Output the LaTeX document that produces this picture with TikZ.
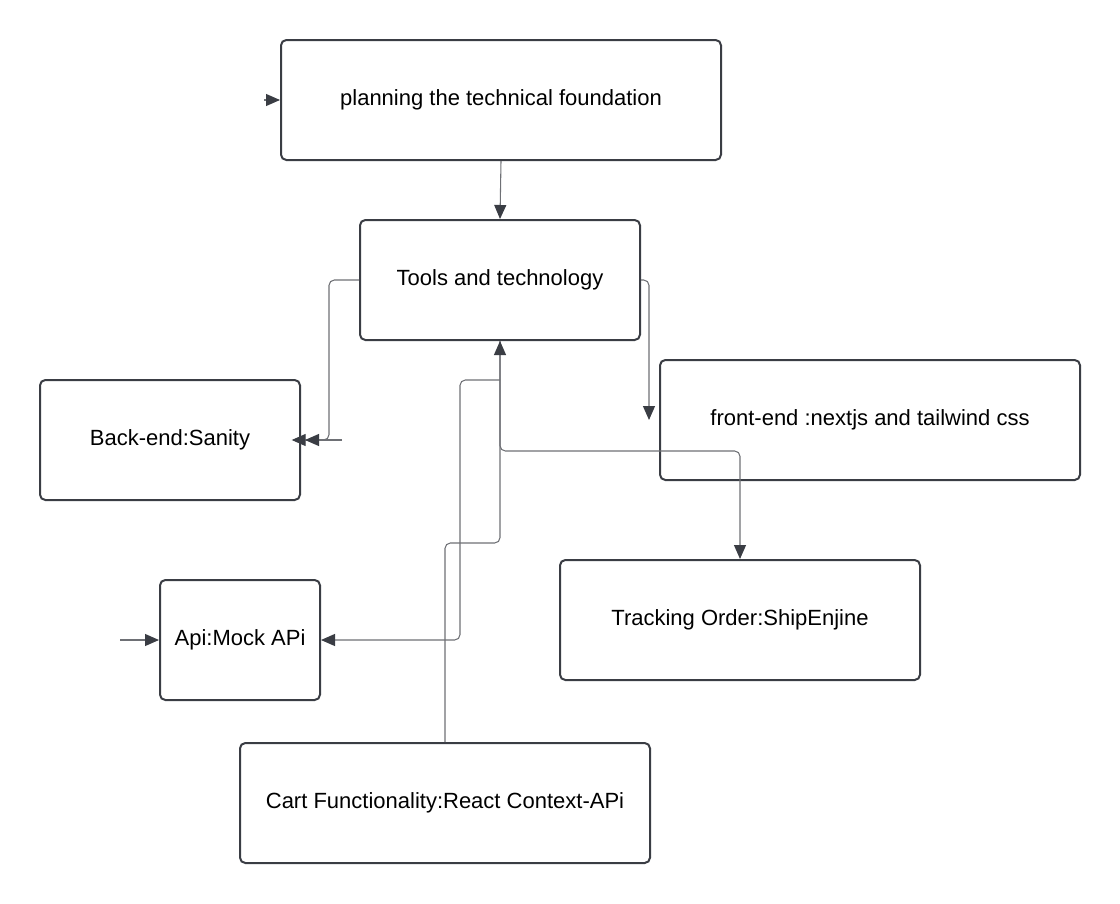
\documentclass[tikz,border=0pt]{standalone}
\usepackage{fontspec}
\setmainfont{Liberation Sans}
\usetikzlibrary{arrows.meta}
\definecolor{boxline}{HTML}{3A3D44}
\definecolor{wire}{HTML}{6E7075}

\begin{document}
\begin{tikzpicture}
    [x=0.75pt,y=-0.75pt,
    font=\fontsize{16.5}{20}\selectfont,
    box/.style={draw=boxline,line width=1.5pt,rounded corners=4pt,minimum height=90pt,align=center,inner sep=0pt},
    arr/.style={draw=wire,line width=0.8pt,rounded corners=4pt,-{Triangle[length=10.5pt,width=9pt,fill=boxline,color=boxline]}}]

    \useasboundingbox (0,0) rectangle (1120,903);

    \node[box,minimum width=330pt] (plan) at (501,100) {planning the technical foundation};
    \node[box,minimum width=210pt] (tools) at (500,280) {Tools and technology};
    \node[box,minimum width=195pt] (backend) at (170,440) {Back-end:Sanity};
    \node[box,minimum width=315pt] (frontend) at (870,420) {front-end :nextjs and tailwind css};
    \node[box,minimum width=120pt] (api) at (240,640) {Api:Mock APi};
    \node[box,minimum width=270pt] (tracking) at (740,620) {Tracking Order:ShipEnjine};
    \node[box,minimum width=307.5pt] (cart) at (445,803) {Cart Functionality:React Context-APi};

    % loose ends and bends
    \coordinate (planin) at (264,100);
    \coordinate (backin) at (342,440);
    \coordinate (apiin) at (120,640);
    \coordinate (upjoin) at (500,543);
    \coordinate (apijoin) at (500,380);
    \coordinate (apibend) at (460,640);

    \draw[arr] (planin) -- (plan.west);
    \draw[arr] (plan.south) -- (tools.north);
    \draw[arr] (tools.west) -- ++(-30,0) |- ([xshift=-7pt]backend.east);
    \draw[arr] (backin) -- ([xshift=3pt]backend.east);
    \draw[arr] (tools.east) -| ([xshift=-7.5pt]frontend.west);
    \draw[arr] (tools.south) -- ++(0,110) -| (tracking.north);
    \draw[arr] (cart.north) |- (upjoin) -- (tools.south);
    \draw[arr] (apijoin) -| (apibend) -- (api.east);
    \draw[arr] (apiin) -- (api.west);
\end{tikzpicture}
\end{document}
